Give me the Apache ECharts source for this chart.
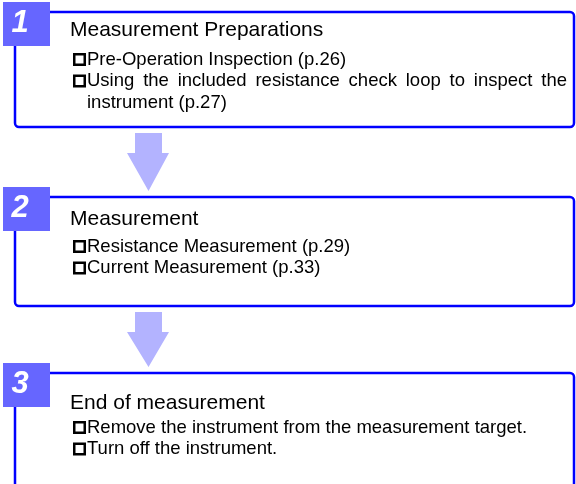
<!DOCTYPE html>
<html>
<head>
<meta charset="utf-8">
<script src="https://cdn.jsdelivr.net/npm/echarts@6/dist/echarts.min.js"></script>
<style>html,body{margin:0;padding:0;background:#fff;}#c{width:576px;height:484px;}</style>
</head>
<body>
<div id="c"></div>
<script>
// ---- data ----
const stepNumbers = ['1', '2', '3'];
const stepTitles = ['Measurement Preparations', 'Measurement', 'End of measurement'];
const stepItems1 = ['Pre-Operation Inspection (p.26)', 'Using the included resistance check loop to inspect the instrument (p.27)'];
const stepItems2 = ['Resistance Measurement (p.29)', 'Current Measurement (p.33)'];
const stepItems3 = ['Remove the instrument from the measurement target.', 'Turn off the instrument.'];
const stepItems = [stepItems1, stepItems2, stepItems3];

// ---- layout ----
const boxTop = [12, 197, 373];
const boxBottom = [127, 306, 520];
const titleBase = [38, 227, 411];
const firstItemBase = [66, 253, 434];
const lineGap = 21.5;
const boxLeft = 15, boxRight = 574;
const titleX = 70, bulletX = 73, textX = 87, textRight = 567;
const FAM = '"Liberation Sans", Arial, sans-serif';
const titleSize = 21, bodySize = 18.5;
const BLUE = '#0000FF', BADGE = '#6666FF', ARROW = '#B3B3FF';

const ctx = document.createElement('canvas').getContext('2d');
ctx.font = bodySize + 'px ' + FAM;
const mw = s => ctx.measureText(s).width;

const els = [];
function textEl(str, x, base, size, opts) {
  opts = opts || {};
  els.push({
    type: 'text', z: 10,
    style: {
      text: str, x: x, y: base - 0.35 * size,
      fontSize: size, fontFamily: FAM,
      fontWeight: opts.weight || 'normal', fontStyle: opts.style || 'normal',
      fill: opts.fill || '#000', align: opts.align || 'left', verticalAlign: 'middle'
    }
  });
}

for (let i = 0; i < stepNumbers.length; i++) {
  const top = boxTop[i], bot = boxBottom[i];
  els.push({ type: 'rect', z: 1, shape: { x: boxLeft, y: top, width: boxRight - boxLeft, height: bot - top, r: 4 },
    style: { fill: '#fff', stroke: BLUE, lineWidth: 2.5 } });
  els.push({ type: 'rect', z: 5, shape: { x: 3, y: top - 10, width: 47, height: 44 }, style: { fill: BADGE } });
  textEl(stepNumbers[i], 20, top - 10 + 32, 31, { weight: 'bold', style: 'italic', fill: '#fff', align: 'center' });
  textEl(stepTitles[i], titleX, titleBase[i], titleSize);
  let base = firstItemBase[i];
  stepItems[i].forEach(item => {
    els.push({ type: 'rect', z: 10, shape: { x: bulletX + 1.25, y: base - 11.75, width: 10.5, height: 10.5 },
      style: { fill: 'none', stroke: '#000', lineWidth: 2.5 } });
    // wrap
    const words = item.split(' ');
    const lines = [];
    let cur = [];
    const avail = textRight - textX;
    words.forEach(w => {
      const test = cur.concat([w]).join(' ');
      if (mw(test) > avail && cur.length) { lines.push(cur); cur = [w]; } else cur.push(w);
    });
    lines.push(cur);
    lines.forEach((lw, li) => {
      const last = li === lines.length - 1;
      if (last) {
        textEl(lw.join(' '), textX, base, bodySize);
      } else {
        const total = lw.reduce((a, w) => a + mw(w), 0);
        const gap = (avail - total) / (lw.length - 1);
        let x = textX;
        lw.forEach(w => { textEl(w, x, base, bodySize); x += mw(w) + gap; });
      }
      base += lineGap;
    });
  });
}

// arrows between boxes
for (let i = 0; i < stepNumbers.length - 1; i++) {
  const t = boxBottom[i] + 6, tip = boxTop[i + 1] - 6, sb = t + 20;
  els.push({ type: 'polygon', z: 3, shape: { points: [[135, t], [162, t], [162, sb], [169, sb], [148.5, tip], [127, sb], [135, sb]] },
    style: { fill: ARROW } });
}

const chart = echarts.init(document.getElementById('c'), null, { renderer: 'canvas' });
chart.setOption({ backgroundColor: '#fff', animation: false, graphic: { elements: els } });
</script>
</body>
</html>
